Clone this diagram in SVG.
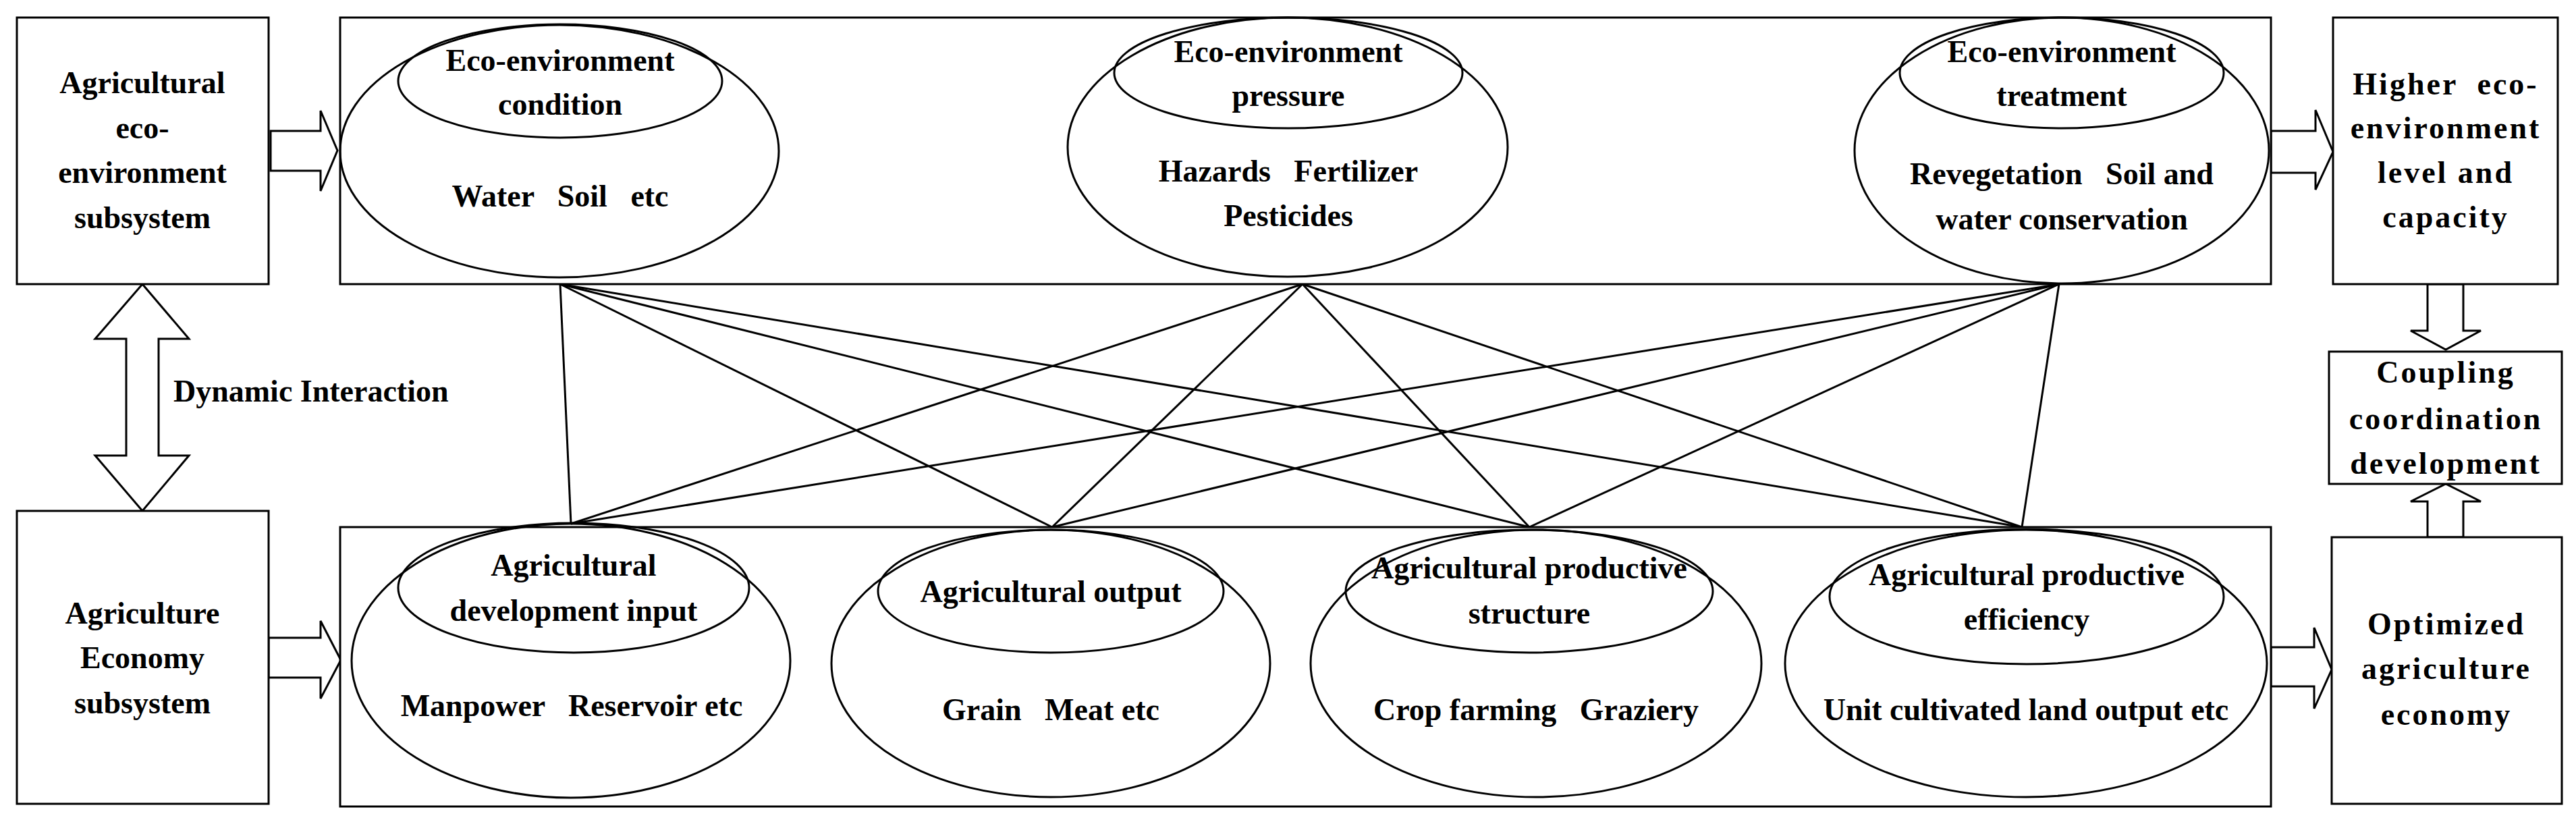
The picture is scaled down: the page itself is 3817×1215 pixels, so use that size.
<svg xmlns="http://www.w3.org/2000/svg" width="3817" height="1215" viewBox="0 0 3817 1215">
<style>
.b{fill:#fff;stroke:#000;stroke-width:3}
.e{fill:none;stroke:#000;stroke-width:3}
.a{fill:#fff;stroke:#000;stroke-width:3;stroke-linejoin:miter}
.l{stroke:#000;stroke-width:3;fill:none}
text{font-family:"Liberation Serif","Times New Roman",serif;font-weight:bold;font-size:46px;text-anchor:middle;fill:#000}
.w{letter-spacing:3px}
</style>
<rect width="3817" height="1215" fill="#fff"/>
<g id="connectors">
<line class="l" x1="830" y1="421" x2="846" y2="776"/>
<line class="l" x1="830" y1="421" x2="1559" y2="781"/>
<line class="l" x1="830" y1="421" x2="2266" y2="781"/>
<line class="l" x1="830" y1="421" x2="2996" y2="781"/>
<line class="l" x1="1930" y1="421" x2="846" y2="776"/>
<line class="l" x1="1930" y1="421" x2="1559" y2="781"/>
<line class="l" x1="1930" y1="421" x2="2266" y2="781"/>
<line class="l" x1="1930" y1="421" x2="2996" y2="781"/>
<line class="l" x1="3051" y1="421" x2="846" y2="776"/>
<line class="l" x1="3051" y1="421" x2="1559" y2="781"/>
<line class="l" x1="3051" y1="421" x2="2266" y2="781"/>
<line class="l" x1="3051" y1="421" x2="2996" y2="781"/>
<polygon class="a" points="401,194 475,194 475,164 500,223 475,283 475,253 401,253"/>
<polygon class="a" points="398,945 475,945 475,920 505,978 475,1035 475,1004 398,1004"/>
<polygon class="a" points="3365,194 3431,194 3431,163 3457,225 3431,281 3431,256 3365,256"/>
<polygon class="a" points="3365,959 3429,959 3429,930 3455,992 3429,1050 3429,1017 3365,1017"/>
<polygon class="a" points="3597,421 3650,421 3650,490 3676,490 3624,518 3572,490 3597,490"/>
<polygon class="a" points="3597,796 3650,796 3650,743 3676,743 3624,717 3572,743 3597,743"/>
<polygon class="a" points="211,421 280,502 235,502 235,675 280,675 211,757 141,675 187,675 187,502 141,502"/>
<text x="257" y="595" style="text-anchor:start">Dynamic Interaction</text>
</g>
<g id="eco-subsystem">
<rect class="b" x="25" y="26" width="373" height="395"/>
<text x="211" y="138">Agricultural</text><text x="211" y="205">eco-</text><text x="211" y="271">environment</text><text x="211" y="338">subsystem</text>
</g>
<g id="eco-box"><rect class="b" x="504" y="26" width="2861" height="395"/></g>
<g id="eco-condition">
<ellipse class="e" cx="829" cy="224" rx="325" ry="187"/>
<ellipse class="e" cx="830" cy="120" rx="240" ry="84"/>
<text x="830" y="105">Eco-environment</text><text x="830" y="170">condition</text>
<text x="830" y="306" xml:space="preserve">Water   Soil   etc</text>
</g>
<g id="eco-pressure">
<ellipse class="e" cx="1908" cy="218" rx="326" ry="192"/>
<ellipse class="e" cx="1909" cy="108" rx="258" ry="82"/>
<text x="1909" y="92">Eco-environment</text><text x="1909" y="157">pressure</text>
<text x="1909" y="269" xml:space="preserve">Hazards   Fertilizer</text><text x="1909" y="335">Pesticides</text>
</g>
<g id="eco-treatment">
<ellipse class="e" cx="3055" cy="223" rx="307" ry="197"/>
<ellipse class="e" cx="3055" cy="108" rx="240" ry="82"/>
<text x="3055" y="92">Eco-environment</text><text x="3055" y="157">treatment</text>
<text x="3055" y="273" xml:space="preserve">Revegetation   Soil and</text><text x="3055" y="340">water conservation</text>
</g>
<g id="econ-subsystem">
<rect class="b" x="25" y="757" width="373" height="434"/>
<text x="211" y="924">Agriculture</text><text x="211" y="990">Economy</text><text x="211" y="1057">subsystem</text>
</g>
<g id="econ-box"><rect class="b" x="504" y="781" width="2861" height="414"/></g>
<g id="dev-input">
<ellipse class="e" cx="846" cy="979" rx="325" ry="203"/>
<ellipse class="e" cx="850" cy="871" rx="260" ry="96"/>
<text x="850" y="853">Agricultural</text><text x="850" y="920">development input</text>
<text x="847" y="1061" xml:space="preserve">Manpower   Reservoir etc</text>
</g>
<g id="output">
<ellipse class="e" cx="1557" cy="983" rx="325" ry="198"/>
<ellipse class="e" cx="1557" cy="876" rx="256" ry="91"/>
<text x="1557" y="892">Agricultural output</text>
<text x="1557" y="1067" xml:space="preserve">Grain   Meat etc</text>
</g>
<g id="structure">
<ellipse class="e" cx="2276" cy="983" rx="334" ry="198"/>
<ellipse class="e" cx="2266" cy="876" rx="272" ry="91"/>
<text x="2266" y="857">Agricultural productive</text><text x="2266" y="924">structure</text>
<text x="2276" y="1067" xml:space="preserve">Crop farming   Graziery</text>
</g>
<g id="efficiency">
<ellipse class="e" cx="3002" cy="983" rx="357" ry="198"/>
<ellipse class="e" cx="3003" cy="884" rx="292" ry="100"/>
<text x="3003" y="867">Agricultural productive</text><text x="3003" y="933">efficiency</text>
<text x="3002" y="1067">Unit cultivated land output etc</text>
</g>
<g id="higher">
<rect class="b" x="3457" y="26" width="333" height="395"/>
<text class="w" x="3624" y="140" xml:space="preserve">Higher  eco-</text><text class="w" x="3624" y="205">environment</text><text class="w" x="3624" y="271">level and</text><text class="w" x="3624" y="337">capacity</text>
</g>
<g id="coupling">
<rect class="b" x="3451" y="521" width="345" height="196"/>
<text class="w" x="3624" y="567">Coupling</text><text class="w" x="3624" y="636">coordination</text><text class="w" x="3624" y="702">development</text>
</g>
<g id="optimized">
<rect class="b" x="3455" y="796" width="341" height="395"/>
<text class="w" x="3625" y="940">Optimized</text><text class="w" x="3625" y="1006">agriculture</text><text class="w" x="3625" y="1074">economy</text>
</g>
</svg>
